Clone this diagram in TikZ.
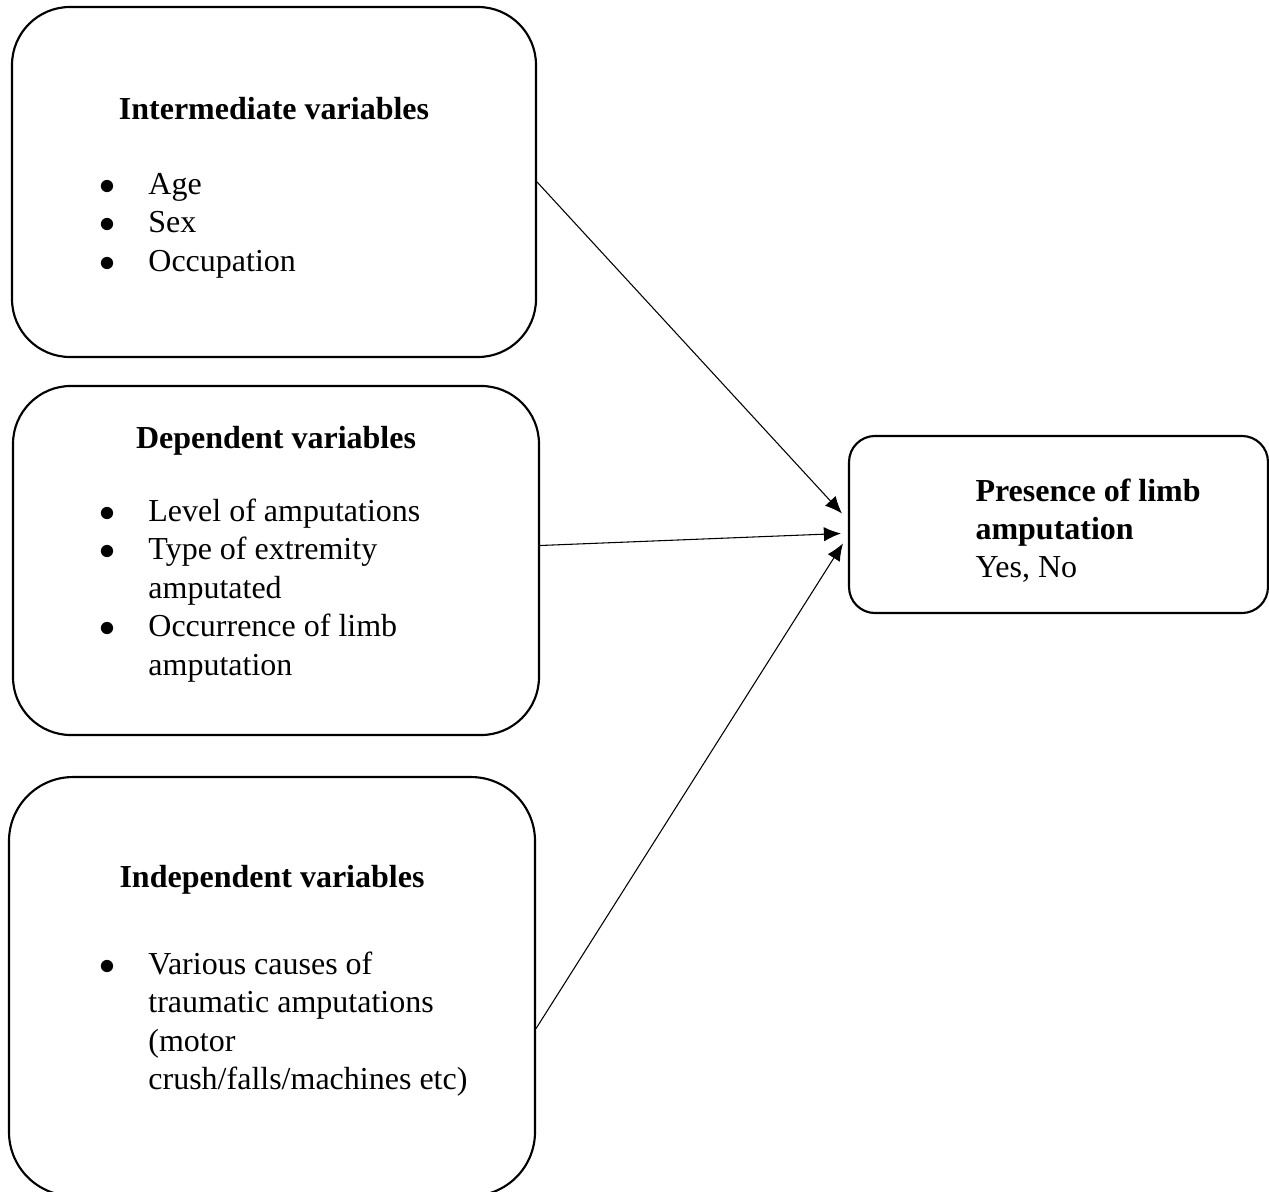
\documentclass[tikz,border=0pt]{standalone}
\usepackage{fontspec}
\setmainfont{Liberation Serif}
\usepackage{tikz}
\usetikzlibrary{arrows.meta}
\usetikzlibrary{calc}

\newcommand{\bul}{\makebox[17.4pt][l]{\hspace{-1pt}$\bullet$}}
\newcommand{\bulgap}{\hspace*{17.4pt}}

\begin{document}
\begin{tikzpicture}[x=0.375pt,y=-0.375pt,
  box/.style={draw,line width=0.8pt,inner sep=0pt},
  ttl/.style={font=\fontsize{12}{14.44}\selectfont\bfseries,inner sep=0pt,anchor=base},
  lst/.style={font=\fontsize{12}{14.44}\selectfont,inner sep=0pt,anchor=base west},
  arr/.style={line width=0.4pt,-{Latex[length=6.4pt,width=5.4pt]}}]
\useasboundingbox (0,0) rectangle (1269,1192);

\node[box,rounded corners=21.75pt,minimum width=196.5pt,minimum height=131.25pt] (b1) at (274,182) {};
\node[ttl] (t1) at (274,119) {Intermediate variables};
\node[lst] (l1) at (101.5,194) {\begin{tabular}[t]{@{}l@{}}
  \bul Age\\ \bul Sex\\ \bul Occupation
\end{tabular}};

\node[box,rounded corners=21.75pt,minimum width=197.25pt,minimum height=130.9pt] (b2) at (276,560.5) {};
\node[ttl] (t2) at (276,448) {Dependent variables};
\node[lst] (l2) at (101.5,521) {\begin{tabular}[t]{@{}l@{}}
  \bul Level of amputations\\ \bul Type of extremity\\ \bulgap amputated\\
  \bul Occurrence of limb\\ \bulgap amputation
\end{tabular}};

\node[box,rounded corners=24pt,minimum width=197.25pt,minimum height=157.1pt] (b3) at (272,986.5) {};
\node[ttl] (t3) at (272,887) {Independent variables};
\node[lst] (l3) at (101.5,974) {\begin{tabular}[t]{@{}l@{}}
  \bul Various causes of\\ \bulgap traumatic amputations\\ \bulgap (motor\\
  \bulgap crush/falls/machines etc)
\end{tabular}};

\node[box,rounded corners=9.75pt,minimum width=157.1pt,minimum height=66.4pt] (b4) at (1058.5,524.5) {};
\node[lst,font=\fontsize{12}{14.4}\selectfont] (r4) at (975,501) {\begin{tabular}[t]{@{}l@{}}
  \textbf{Presence of limb}\\ \textbf{amputation}\\ Yes, No
\end{tabular}};

\draw[arr] (b1.east) -- ($(b4.west)+(-6,-11)$);
\draw[arr] ($(b2.east)+(0,-15)$) -- ($(b4.west)+(-7,9)$);
\draw[arr] ($(b3.east)+(0,42)$) -- ($(b4.west)+(-5,19)$);
%%\draw[arr] (b2.east) -- (b4.west);
\end{tikzpicture}
\end{document}
